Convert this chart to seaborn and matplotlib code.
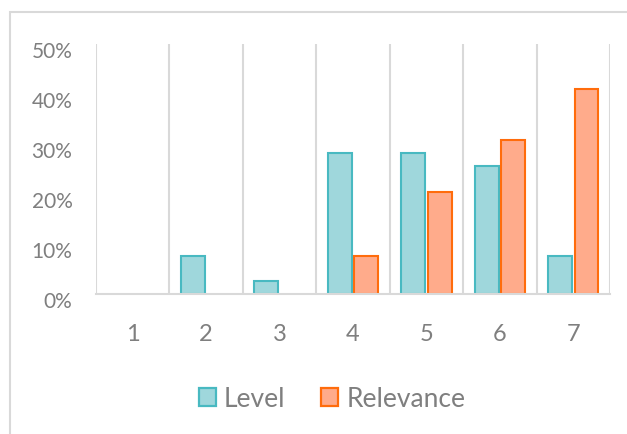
import matplotlib
matplotlib.use("Agg")
import matplotlib.pyplot as plt
import matplotlib.transforms as mtransforms
from matplotlib.patches import Patch, Rectangle
import seaborn as sns
import pandas as pd

categories = ["1", "2", "3", "4", "5", "6", "7"]
level = [0.0, 7.7, 2.6, 28.2, 28.2, 25.6, 7.7]
relevance = [0.0, 0.0, 0.0, 7.7, 20.5, 30.8, 41.0]
series_names = ["Level", "Relevance"]
y_ticks = [0, 10, 20, 30, 40, 50]
y_tick_labels = ["0%", "10%", "20%", "30%", "40%", "50%"]

fills = ["#9fd7dc", "#ffab8b"]
edges = ["#48b9c1", "#ff6c0c"]
text_color = "#7f7f7f"
grid_color = "#d9d9d9"

df = pd.DataFrame({
    "cat": categories * 2,
    "value": level + relevance,
    "series": [series_names[0]] * len(categories) + [series_names[1]] * len(categories),
})

sns.set_theme(style="white")
plt.rcParams["font.family"] = ["Lato", "DejaVu Sans"]

fig = plt.figure(figsize=(6.27, 4.35), dpi=100)
ax = fig.add_axes([96 / 627, 1 - 295 / 435, (610 - 96) / 627, (295 - 45) / 435])

sns.barplot(data=df, x="cat", y="value", hue="series", order=categories,
            hue_order=series_names, palette=fills, width=0.72, gap=0.1,
            legend=False, ax=ax, saturation=1)

for cont, ec in zip(ax.containers, edges):
    for bar in cont:
        if bar.get_height() > 0:
            bar.set_edgecolor(ec)
            bar.set_linewidth(1.5)
        else:
            bar.set_linewidth(0)
            bar.set_visible(False)

ax.set_xlim(-0.5, len(categories) - 0.5)
ax.set_ylim(0, 50)
ax.set_yticks(y_ticks)
ax.set_yticklabels(y_tick_labels)
for xb in [i - 0.5 for i in range(len(categories) + 1)]:
    ax.axvline(xb, color=grid_color, lw=1.5, zorder=0)

for s in ["top", "right", "left"]:
    ax.spines[s].set_visible(False)
ax.spines["bottom"].set_color(grid_color)
ax.spines["bottom"].set_linewidth(1.5)

ax.tick_params(axis="y", length=0, pad=17, labelsize=15, labelcolor=text_color)
ax.tick_params(axis="x", length=0, pad=21, labelsize=17, labelcolor=text_color)
ax.set_xlabel("")
ax.set_ylabel("")

shift = mtransforms.ScaledTranslation(0, -5 / 100, fig.dpi_scale_trans)
for lab in ax.get_yticklabels():
    lab.set_transform(lab.get_transform() + shift)

handles = [Patch(facecolor=f, edgecolor=e, linewidth=1.6) for f, e in zip(fills, edges)]
leg = fig.legend(handles, series_names, loc="center", bbox_to_anchor=(332 / 627, 1 - 400 / 435),
                 ncol=2, frameon=False, fontsize=19, handlelength=0.65, handleheight=0.65,
                 handletextpad=0.3, columnspacing=1.35)
for t in leg.get_texts():
    t.set_color(text_color)

fig.patches.append(Rectangle((10 / 627, -0.05), 1.2, 1 - 13 / 435 + 0.05,
                             transform=fig.transFigure, fill=False,
                             edgecolor=grid_color, linewidth=1.5))

fig.savefig("out.png", dpi=100)
